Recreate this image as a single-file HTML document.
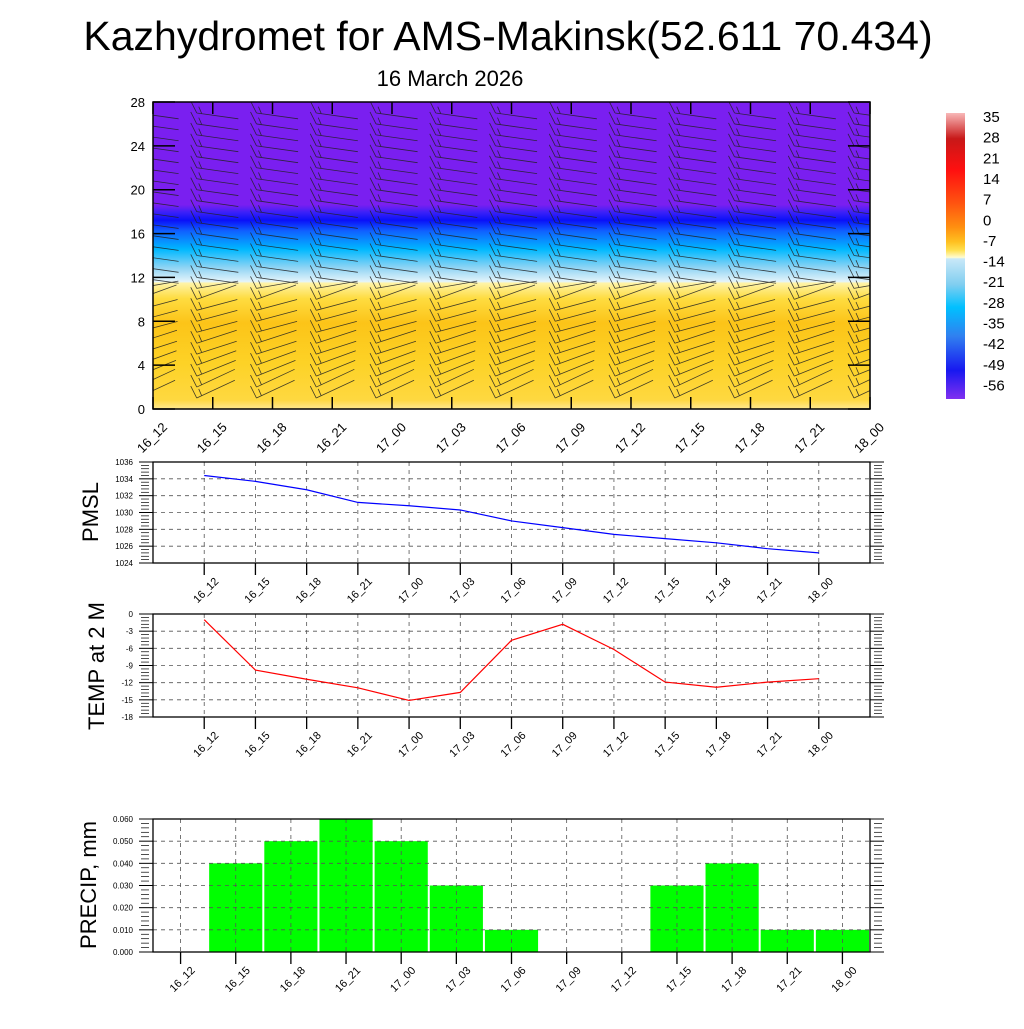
<!DOCTYPE html>
<html><head><meta charset="utf-8"><style>
body{margin:0;background:#fff}
svg text{font-family:"Liberation Sans",sans-serif}
</style></head><body>
<svg id="c" width="1024" height="1024" xmlns="http://www.w3.org/2000/svg">
<defs>
<linearGradient id="tg" x1="0" y1="0" x2="0" y2="1">
<stop offset="0" stop-color="#7a1ff0"/>
<stop offset="0.335" stop-color="#7a1ff0"/>
<stop offset="0.36" stop-color="#3a20f8"/>
<stop offset="0.385" stop-color="#0a10f8"/>
<stop offset="0.42" stop-color="#1060ff"/>
<stop offset="0.48" stop-color="#00b8ff"/>
<stop offset="0.54" stop-color="#90d4f4"/>
<stop offset="0.585" stop-color="#e4f4fa"/>
<stop offset="0.59" stop-color="#fff4a8"/>
<stop offset="0.64" stop-color="#fedc40"/>
<stop offset="0.72" stop-color="#fcc418"/>
<stop offset="0.85" stop-color="#fdd226"/>
<stop offset="0.97" stop-color="#fed840"/>
<stop offset="1" stop-color="#fee890"/>
</linearGradient>
<linearGradient id="cb" x1="0" y1="0" x2="0" y2="1">
<stop offset="0" stop-color="#f8b8b8"/>
<stop offset="0.09" stop-color="#c81818"/>
<stop offset="0.2" stop-color="#ff1010"/>
<stop offset="0.31" stop-color="#ff5010"/>
<stop offset="0.4" stop-color="#ff9010"/>
<stop offset="0.45" stop-color="#ffc020"/>
<stop offset="0.48" stop-color="#ffe050"/>
<stop offset="0.505" stop-color="#fffcd0"/>
<stop offset="0.51" stop-color="#c8e8f8"/>
<stop offset="0.6" stop-color="#80cef0"/>
<stop offset="0.68" stop-color="#00c0ff"/>
<stop offset="0.78" stop-color="#3080f0"/>
<stop offset="0.9" stop-color="#1818f0"/>
<stop offset="1" stop-color="#8030f0"/>
</linearGradient>
<clipPath id="tc"><rect x="153" y="102" width="717" height="307"/></clipPath>
</defs>
<text x="508" y="50" font-size="41" text-anchor="middle">Kazhydromet for AMS-Makinsk(52.611 70.434)</text>
<text x="450" y="86" font-size="22" text-anchor="middle">16 March 2026</text>
<g id="g"></g>
</svg>
<script>
const times=["16_12","16_15","16_18","16_21","17_00","17_03","17_06","17_09","17_12","17_15","17_18","17_21","18_00"];
const pmsl=[1034.4,1033.7,1032.7,1031.2,1030.8,1030.3,1029.0,1028.2,1027.4,1026.9,1026.4,1025.7,1025.2];
const temp=[-1,-9.8,-11.4,-12.9,-15.1,-13.7,-4.6,-1.8,-6.2,-11.9,-12.8,-11.9,-11.3];
const precip=[0,0.04,0.05,0.06,0.05,0.03,0.01,0,0,0.03,0.04,0.01,0.01];
const levels=[1,2,3,4,5,6,7,8,9,10,11,12,13,14,15,16,17,18,19,20,21,22,23,24,25,26,27];
const windAngle=[-25,-25,-22,-20,-18,-18,-15,-15,-15,-20,-10,8,8,8,8,8,8,8,8,8,8,8,8,8,8,8,8];
const pmslTicks=[1024,1026,1028,1030,1032,1034,1036];
const tempTicks=[-18,-15,-12,-9,-6,-3,0];
const precipTicks=[0,0.01,0.02,0.03,0.04,0.05,0.06];
const cbLabels=["35","28","21","14","7","0","-7","-14","-21","-28","-35","-42","-49","-56"];
const hTicks=[0,4,8,12,16,20,24,28];

const NS="http://www.w3.org/2000/svg";
const G=document.getElementById('g');
function el(t,a,p){const e=document.createElementNS(NS,t);for(const k in a)e.setAttribute(k,a[k]);(p||G).appendChild(e);return e;}
function txt(s,a,p){const e=el('text',a,p);e.textContent=s;return e;}

// ---- top panel
const L=153,R=870,T0=102,B0=409;
const tx=i=>L+(R-L)*i/12, hy=v=>B0-(B0-T0)*v/28;
const topG=el('g',{});


el('rect',{x:L,y:T0,width:R-L,height:B0-T0,fill:'url(#tg)'},topG);
const barbs=el('g',{stroke:'#222','stroke-width':0.8,fill:'none',opacity:0.85,'clip-path':'url(#tc)'},topG);


times.forEach((t,i)=>{levels.forEach((lv,j)=>{
  const x=tx(i)-16, y=hy(lv), a=windAngle[j]*Math.PI/180, len=42;
  const x2=x+len*Math.cos(a), y2=y+len*Math.sin(a);
  const b=el('path',{d:`M${x} ${y}L${x2} ${y2}M${x} ${y}l-6 -12M${x+5} ${y+5*Math.sin(a)}l-3 -7`},barbs);
  
});});
el('rect',{x:L,y:T0,width:R-L,height:B0-T0,fill:'none',stroke:'#000','stroke-width':1.5},topG);
hTicks.forEach(v=>{
  el('line',{x1:L,x2:L+22,y1:hy(v),y2:hy(v),stroke:'#000','stroke-width':1.5},topG);
  el('line',{x1:R-22,x2:R,y1:hy(v),y2:hy(v),stroke:'#000','stroke-width':1.5},topG);
  const l=txt(String(v),{x:L-8,y:hy(v)+5,'font-size':13,'text-anchor':'end'},topG);
  
  
});
times.forEach((t,i)=>{
  el('line',{x1:tx(i),x2:tx(i),y1:B0,y2:B0-12,stroke:'#000','stroke-width':1.5},topG);
  el('line',{x1:tx(i),x2:tx(i),y1:T0,y2:T0+12,stroke:'#000','stroke-width':1.5},topG);
  const l=txt(t,{x:0,y:0,'font-size':13,'text-anchor':'end',transform:`translate(${tx(i)+15},${B0+19}) rotate(-45)`},topG);
  
  
});
// colorbar
const cbg=el('g',{});


el('rect',{x:946,y:113,width:19,height:286,fill:'url(#cb)'},cbg);
cbLabels.forEach((s,i)=>{
  const l=txt(s,{x:983,y:122+i*20.65,'font-size':15},cbg);
  
  
});

// ---- lower panels
const PL=153,PR=870;
const lx=i=>PL+(PR-PL)*(i+1)/14;
function panel(name,title,T,B,ticks,fmt,vals,color,titleY,isBar){
  const g=el('g',{});
  
  
  const lo=ticks[0],hi=ticks[ticks.length-1];
  const y=v=>B-(B-T)*(v-lo)/(hi-lo);
  const xs=isBar?(i=>PL+(PR-PL)*(i+0.5)/13):lx;
  const bw=(PR-PL)/13;
  if(isBar){vals.forEach((v,i)=>{if(v<=0)return;
    const r=el('rect',{x:xs(i)-bw/2+1,y:y(v),width:bw-2,height:B-y(v),fill:'#00ff00'},g);
    
    });}
  const grid=el('g',{stroke:'#555','stroke-width':0.8,'stroke-dasharray':'4,4'},g);
  ticks.slice(1,-1).forEach(v=>el('line',{x1:PL,x2:PR,y1:y(v),y2:y(v)},grid));
  times.forEach((t,i)=>el('line',{x1:xs(i),x2:xs(i),y1:T,y2:B},grid));
  if(!isBar){const p=el('polyline',{points:vals.map((v,i)=>xs(i)+','+y(v)).join(' '),fill:'none',stroke:color,'stroke-width':1.2},g);
    
    }
  el('rect',{x:PL,y:T,width:PR-PL,height:B-T,fill:'none',stroke:'#000','stroke-width':1.3},g);
  for(let k=0;k<ticks.length-1;k++){const step=(ticks[k+1]-ticks[k])/5;
    for(let m=1;m<5;m++){const yy=y(ticks[k]+m*step);
      el('line',{x1:PL-12,x2:PL-4,y1:yy,y2:yy,stroke:'#000','stroke-width':0.7},g);
      el('line',{x1:PR+4,x2:PR+12,y1:yy,y2:yy,stroke:'#000','stroke-width':0.7},g);}}
  ticks.forEach(v=>{
    el('line',{x1:PL-14,x2:PL,y1:y(v),y2:y(v),stroke:'#000','stroke-width':1},g);
    el('line',{x1:PR,x2:PR+14,y1:y(v),y2:y(v),stroke:'#000','stroke-width':1},g);
    const l=txt(fmt(v),{x:PL-20,y:y(v)+3,'font-size':8,'text-anchor':'end'},g);
    
    
  });
  times.forEach((t,i)=>{
    el('line',{x1:xs(i),x2:xs(i),y1:B,y2:B+12,stroke:'#000','stroke-width':1.3},g);
    const l=txt(t,{x:0,y:0,'font-size':11,'text-anchor':'end',transform:`translate(${xs(i)+15},${B+19}) rotate(-45)`},g);
    
    
  });
  const at=txt(title,{x:0,y:0,'font-size':22,'text-anchor':'middle',transform:`translate(${titleY[0]},${titleY[1]}) rotate(-90)`},g);
  
  
}
panel('pmsl-panel','PMSL',462,563,pmslTicks,v=>String(v),pmsl,'#0000ff',[98,512],false);
panel('temp-panel','TEMP at 2 M',614,717,tempTicks,v=>String(v),temp,'#ff0000',[104,666],false);
panel('precip-panel','PRECIP, mm',819,952,precipTicks,v=>v.toFixed(3),precip,'',[96,885],true);
</script>
</body></html>
